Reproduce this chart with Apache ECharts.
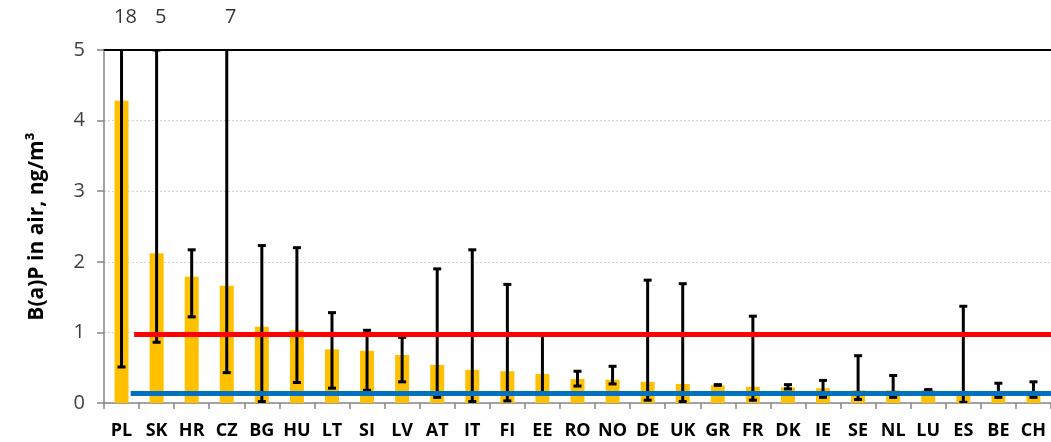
<!DOCTYPE html>
<html>
<head>
<meta charset="utf-8">
<script src="https://cdn.jsdelivr.net/npm/echarts@6/dist/echarts.min.js"></script>
<style>
  html, body { margin: 0; padding: 0; background: #fff; }
  #chart { width: 1051px; height: 442px; }
</style>
</head>
<body>
<div id="chart"></div>
<script>
// 国家 & 数值
const countries = ['PL', 'SK', 'HR', 'CZ', 'BG', 'HU', 'LT', 'SI', 'LV', 'AT', 'IT', 'FI', 'EE', 'RO',
  'NO', 'DE', 'UK', 'GR', 'FR', 'DK', 'IE', 'SE', 'NL', 'LU', 'ES', 'BE', 'CH'];
const meanValues = [4.28, 2.12, 1.79, 1.66, 1.08, 1.03, 0.76, 0.74, 0.68, 0.54, 0.47, 0.45, 0.41, 0.34,
  0.33, 0.30, 0.27, 0.25, 0.23, 0.22, 0.21, 0.18, 0.18, 0.18, 0.14, 0.14, 0.13];
const errLow = [0.51, 0.86, 1.22, 0.43, 0.02, 0.29, 0.21, 0.18, 0.30, 0.08, 0.02, 0.03, 0.14, 0.24,
  0.27, 0.04, 0.02, 0.25, 0.04, 0.20, 0.08, 0.05, 0.08, 0.18, 0.01, 0.08, 0.08];
const errHigh = [18, 5, 2.17, 7, 2.23, 2.20, 1.28, 1.03, 0.93, 1.90, 2.17, 1.68, 0.97, 0.45,
  0.52, 1.74, 1.69, 0.26, 1.23, 0.26, 0.32, 0.67, 0.39, 0.19, 1.37, 0.28, 0.30];
const yTicks = [0, 1, 2, 3, 4, 5];
// 参考线：起点（类目坐标）与数值
const redLine = { start: 0.86, value: 0.972 };
const blueLine = { start: 0.76, value: 0.133 };

const yMax = yTicks[yTicks.length - 1];
const errData = countries.map((c, i) => [i, errLow[i], errHigh[i]]);
// 达到或超出坐标轴的误差上限，标注在顶部
const overData = countries
  .map((c, i) => (errHigh[i] >= yMax ? { value: [i, yMax], label: String(errHigh[i]) } : null))
  .filter(d => d);

const chart = echarts.init(document.getElementById('chart'));

const option = {
  backgroundColor: '#ffffff',
  animation: false,
  grid: { left: 104, right: 0, top: 50, bottom: 39 },
  xAxis: [
    {
      type: 'category',
      data: countries,
      axisLine: { lineStyle: { color: '#868686', width: 1.5 } },
      axisTick: { show: true, length: 6, lineStyle: { color: '#868686', width: 1.5 } },
      axisLabel: {
        interval: 0,
        margin: 19,
        color: '#000',
        fontFamily: 'Open Sans',
        fontWeight: 'bold',
        fontSize: 18
      }
    },
    {
      type: 'value',
      position: 'top',
      min: 0,
      max: countries.length,
      axisLine: { show: true, lineStyle: { color: '#000', width: 2 } },
      axisTick: { show: false },
      axisLabel: { show: false },
      splitLine: { show: false }
    }
  ],
  yAxis: {
    type: 'value',
    min: 0,
    max: yMax,
    interval: 1,
    name: 'B(a)P in air, ng/m³',
    nameLocation: 'middle',
    nameGap: 56,
    nameTextStyle: { color: '#000', fontFamily: 'Open Sans', fontWeight: 'bold', fontSize: 21 },
    axisLine: { show: true, lineStyle: { color: '#868686', width: 1.5 } },
    axisTick: { show: true, length: 7, lineStyle: { color: '#868686', width: 1.5 } },
    axisLabel: { margin: 19, color: '#404040', fontFamily: 'Open Sans', fontSize: 20 },
    splitLine: { lineStyle: { color: '#d4d4d4', type: [2, 2], width: 1 } }
  },
  series: [
    {
      name: 'mean',
      type: 'bar',
      barWidth: 14,
      itemStyle: { color: '#FFC000' },
      data: meanValues,
      z: 2
    },
    {
      name: 'range',
      type: 'custom',
      clip: true,
      z: 3,
      encode: { x: 0, y: [1, 2] },
      data: errData,
      renderItem: function (params, api) {
        const x = api.coord([api.value(0), 0])[0];
        const yLo = api.coord([api.value(0), api.value(1)])[1];
        const yHi = api.coord([api.value(0), api.value(2)])[1];
        const st = { stroke: '#000', lineWidth: 3 };
        return {
          type: 'group',
          children: [
            { type: 'line', shape: { x1: x, y1: yLo, x2: x, y2: yHi }, style: st },
            { type: 'line', shape: { x1: x - 4, y1: yHi, x2: x + 4, y2: yHi }, style: st },
            { type: 'line', shape: { x1: x - 4, y1: yLo, x2: x + 4, y2: yLo }, style: st }
          ]
        };
      }
    },
    {
      name: 'over',
      type: 'scatter',
      symbolSize: 0,
      data: overData,
      label: {
        show: true,
        position: 'top',
        distance: 23,
        offset: [4, 0],
        formatter: p => p.data.label,
        color: '#000',
        fontFamily: 'Open Sans',
        fontSize: 20
      },
      z: 4
    },
    {
      name: 'red',
      type: 'line',
      xAxisIndex: 1,
      symbol: 'none',
      lineStyle: { color: '#FF0000', width: 5 },
      data: [[redLine.start, redLine.value], [countries.length, redLine.value]],
      z: 5
    },
    {
      name: 'blue',
      type: 'line',
      xAxisIndex: 1,
      symbol: 'none',
      lineStyle: { color: '#0070C0', width: 5 },
      data: [[blueLine.start, blueLine.value], [countries.length, blueLine.value]],
      z: 5
    }
  ]
};

chart.setOption(option);
</script>
</body>
</html>
